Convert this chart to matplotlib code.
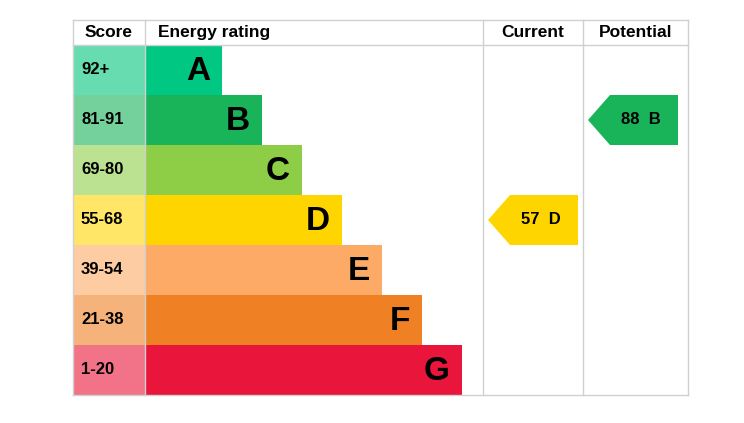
import matplotlib.pyplot as plt
from matplotlib.patches import Rectangle, Polygon

score_labels = ["92+", "81-91", "69-80", "55-68", "39-54", "21-38", "1-20"]
letters = ["A", "B", "C", "D", "E", "F", "G"]
band_mins = [92, 81, 69, 55, 39, 21, 1]
bar_colors = ["#00c781", "#19b459", "#8dce46", "#ffd500", "#fcaa65", "#ef8023", "#e9153b"]
score_colors = ["#66dcb0", "#75d19b", "#bbe290", "#ffe666", "#fdcca2", "#f5b37b", "#f27388"]
current = 57
potential = 88

def band(v):
    for i, m in enumerate(band_mins):
        if v >= m:
            return i
    return len(band_mins) - 1

fig = plt.figure(figsize=(7.44, 4.23), dpi=100)
ax = fig.add_axes([0, 0, 1, 1])
ax.set_xlim(0, 744); ax.set_ylim(423, 0); ax.axis("off")

left, right, top, head_h, row_h = 73, 688, 20, 25, 50
col_score, col_cur, col_pot = 145, 483, 583
y0 = top + head_h
bottom = y0 + row_h * len(letters)
grid = "#d0d0d0"
for x in (left, col_score, col_cur, col_pot, right):
    ax.plot([x, x], [top, bottom], color=grid, lw=1)
for y in (top, y0, bottom):
    ax.plot([left, right], [y, y], color=grid, lw=1)

hdr = dict(fontsize=12.5, fontweight="bold", va="center", family="Liberation Sans")
ax.text(109, top + head_h / 2, "Score", ha="center", **hdr)
ax.text(158, top + head_h / 2, "Energy rating", ha="left", **hdr)
ax.text(533, top + head_h / 2, "Current", ha="center", **hdr)
ax.text(636, top + head_h / 2, "Potential", ha="center", **hdr)

for i, (s, L) in enumerate(zip(score_labels, letters)):
    y = y0 + i * row_h
    ax.add_patch(Rectangle((left, y), col_score - left, row_h, color=score_colors[i], lw=0))
    ax.text(81, y + row_h / 2, s, ha="left", va="center", fontsize=12, fontweight="bold",
            family="Liberation Sans")
    w = 77 + 40 * i
    ax.add_patch(Rectangle((col_score, y), w, row_h, color=bar_colors[i], lw=0))
    ax.text(col_score + w - 12, y + row_h / 2 + 2, L, ha="right", va="center", fontsize=24,
            fontweight="bold", family="Liberation Sans")

def arrow(x0, x1, val):
    i = band(val)
    y = y0 + i * row_h
    ax.add_patch(Polygon([(x0, y + row_h / 2), (x0 + 22, y), (x1, y), (x1, y + row_h),
                          (x0 + 22, y + row_h)], closed=True, color=bar_colors[i], lw=0))
    ax.text((x0 + x1) / 2 + 8, y + row_h / 2, f"{val}  {letters[i]}", ha="center", va="center",
            fontsize=12, fontweight="bold", family="Liberation Sans")

arrow(488, 578, current)
arrow(588, 678, potential)

fig.savefig("out.png", dpi=100)
